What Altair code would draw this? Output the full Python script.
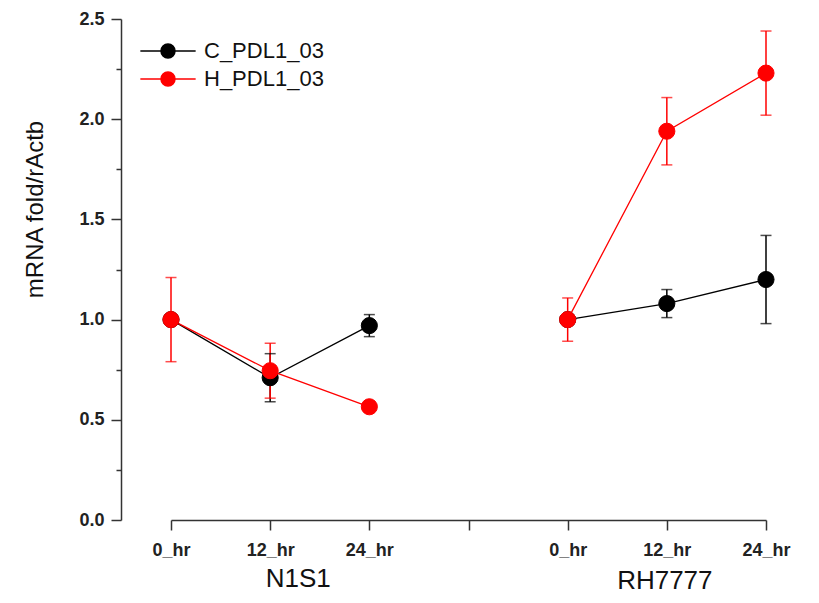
import altair as alt
import pandas as pd

# ---- data ----
groups = ["N1S1", "RH7777"]
times = ["0_hr", "12_hr", "24_hr"]
series = ["C_PDL1_03", "H_PDL1_03"]
colors = ["#000000", "#ff0000"]

c_mean = [1.00, 0.71, 0.97, 1.00, 1.08, 1.20]
c_err = [0.00, 0.12, 0.055, 0.00, 0.07, 0.22]
h_mean = [1.00, 0.745, 0.565, 1.00, 1.94, 2.23]
h_err = [0.21, 0.137, 0.02, 0.108, 0.168, 0.21]

y_title = "mRNA fold/rActb"

# ---- build table ----
rows = []
for s, means, errs in [(series[0], c_mean, c_err), (series[1], h_mean, h_err)]:
    i = 0
    for g in groups:
        for t in times:
            rows.append({"series": s, "group": g, "time": t,
                         "key": f"{g}|{t}", "mean": means[i], "err": errs[i]})
            i += 1
df = pd.DataFrame(rows)

x_domain = [f"{groups[0]}|{t}" for t in times] + ["|"] + [f"{groups[1]}|{t}" for t in times]

font = "Liberation Sans"
W, H = 690, 501

xscale = alt.Scale(type="point", domain=x_domain, range=[50, 645], padding=0)
yscale = alt.Scale(domain=[0, 2.5], nice=False)
cscale = alt.Scale(domain=series, range=colors)

color_expr = "datum.series === '%s' ? '%s' : '%s'" % (series[0], colors[0], colors[1])

x_enc = alt.X("key:N", scale=xscale, title=None, sort=x_domain,
              axis=alt.Axis(labelExpr="split(datum.label, '|')[1]", labelAngle=0,
                            tickSize=10, tickWidth=1.5, tickColor="#333",
                            domainColor="#333", domainWidth=1.5,
                            labelFont=font, labelFontSize=18, labelFontWeight="bold",
                            labelColor="#222", labelPadding=11))

y_vals = [i * 0.25 for i in range(11)]
y_axis = alt.Axis(values=y_vals,
                  labelExpr="datum.value % 0.5 === 0 ? format(datum.value, '.1f') : ''",
                  tickSize={"condition": {"test": "datum.value % 0.5 === 0", "value": 10}, "value": 5},
                  tickWidth=1.5, tickColor="#333", domainColor="#333", domainWidth=1.5,
                  labelFont=font, labelFontSize=18, labelFontWeight="bold", labelColor="#222",
                  labelPadding=7, grid=False,
                  title=y_title, titleFont=font, titleFontSize=24, titleFontWeight="normal",
                  titleColor="#111", titleAngle=270, titleX=-86, titleY=190,
                  titleAlign="center", titleBaseline="middle")

base = alt.Chart(df).transform_calculate(
    col=color_expr, lo="datum.mean - datum.err", hi="datum.mean + datum.err")

lines = base.mark_line(strokeWidth=1.3).encode(
    x=x_enc,
    y=alt.Y("mean:Q", scale=yscale, axis=y_axis),
    color=alt.Color("col:N", scale=None),
    detail="group:N",
)

rules = base.mark_rule(strokeWidth=1.5).encode(
    x=alt.X("key:N", scale=xscale, sort=x_domain),
    y=alt.Y("lo:Q", scale=yscale),
    y2="hi:Q",
    color=alt.Color("col:N", scale=None),
)
caps_lo = base.mark_tick(orient="horizontal", size=11, thickness=1.5).encode(
    x=alt.X("key:N", scale=xscale, sort=x_domain),
    y=alt.Y("lo:Q", scale=yscale),
    color=alt.Color("col:N", scale=None),
)
caps_hi = base.mark_tick(orient="horizontal", size=11, thickness=1.5).encode(
    x=alt.X("key:N", scale=xscale, sort=x_domain),
    y=alt.Y("hi:Q", scale=yscale),
    color=alt.Color("col:N", scale=None),
)

legend_path = "M-3.95,0H3.95M-1,0A1,1,0,1,0,1,0A1,1,0,1,0,-1,0Z"
leg = alt.Legend(title=None, orient="none", legendX=36, legendY=21,
                 symbolType=legend_path, symbolSize=196, symbolStrokeWidth=1.5,
                 labelFont=font, labelFontSize=22, labelColor="#111",
                 labelOffset=25, rowPadding=6, padding=0)

points = base.mark_circle(size=260, opacity=1, strokeWidth=1).encode(
    x=alt.X("key:N", scale=xscale, sort=x_domain),
    y=alt.Y("mean:Q", scale=yscale),
    fill=alt.Fill("series:N", scale=cscale, legend=leg),
    stroke=alt.Stroke("series:N", scale=cscale, legend=leg),
)

gdf = pd.DataFrame({"group": groups, "key": [f"{g}|{times[1]}" for g in groups]})
glab1 = alt.Chart(gdf[gdf.group == groups[0]]).mark_text(
    font=font, fontSize=26, color="#111", baseline="middle", align="center", dx=28
).encode(x=alt.X("key:N", scale=xscale, sort=x_domain), y=alt.value(560), text="group:N")
glab2 = alt.Chart(gdf[gdf.group == groups[1]]).mark_text(
    font=font, fontSize=26, color="#111", baseline="middle", align="center", dx=-2
).encode(x=alt.X("key:N", scale=xscale, sort=x_domain), y=alt.value(562), text="group:N")

chart = alt.layer(lines, rules, caps_lo, caps_hi, points, glab1, glab2).properties(
    width=W, height=H,
    autosize=alt.AutoSizeParams(type="none"),
    padding={"left": 113, "top": 11, "right": 0, "bottom": 75},
).configure_view(stroke=None)

chart.save("out.html", embed_options={"renderer": "svg", "actions": False})
